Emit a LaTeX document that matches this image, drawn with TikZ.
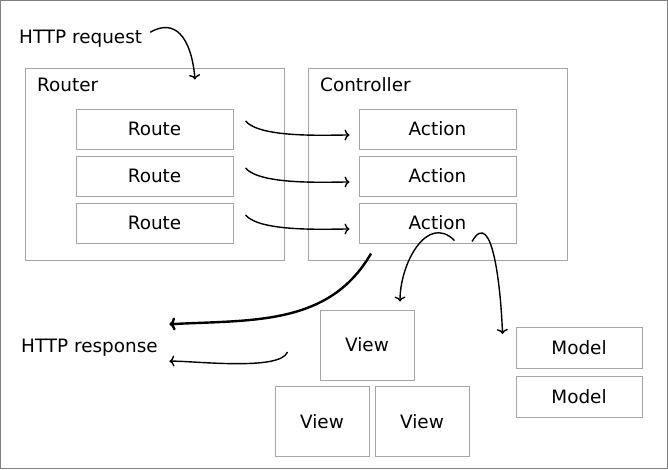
\documentclass[tikz,border=0pt]{standalone}
\usepackage{fontspec}
\setmainfont{DejaVu Sans}
\usetikzlibrary{arrows.meta, positioning}

\begin{document}
\begin{tikzpicture} [x = 1pt, y = -1pt, node distance = 6pt,
    every node/.style = {font = \fontsize{18.4}{22}\selectfont},
    box/.style = {draw = gray!70, line width = 1pt, minimum width = 157pt, minimum height = 40pt},
    group/.style = {draw = gray!70, line width = 1pt, minimum width = 259pt, minimum height = 192pt},
    view/.style = {draw = gray!70, line width = 1pt, minimum width = 94pt, minimum height = 70pt},
    model/.style = {draw = gray!70, line width = 1pt, minimum width = 126pt, minimum height = 41pt},
    word/.style = {inner sep = 0pt}]
\useasboundingbox (0,0) rectangle (668,469);
\draw [gray, line width = 1pt] (0.5,0.5) rectangle (667.5,468.5);
\node (router) [group] at (154.5,164) {};
\node (ctrl) [group] at (437.5,164) {};
\node [word, anchor = base west] at (37,91) {Router};
\node [word, anchor = base west] at (320,91) {Controller};
\node (req) [word, anchor = base west] at (19,43) {HTTP request};
\node (resp) [word, anchor = base west] at (21,352) {HTTP response};
\node (r1) [box] at (154.5,129) {Route};
\node (r2) [box, below = of r1] {Route};
\node (r3) [box, below = of r2] {Route};
\node (a1) [box] at (437.5,129) {Action};
\node (a2) [box, below = of a1] {Action};
\node (a3) [box, below = of a2] {Action};
\node (v1) [view] at (367,345) {View};
\node (v2) [view] at (322,421.5) {View};
\node (v3) [view] at (422,421.5) {View};
\node (m1) [model] at (579,347.5) {Model};
\node (m2) [model] at (579,397) {Model};
\path [-{To[length = 5pt, width = 11pt]}, line width = 1.4pt]
    ([shift = {(8,-6)}]req.east) edge [out = 30, in = 95, out looseness = 1.1, in looseness = 1.7] ([shift = {(40.5,12)}]router.north)
    ([shift = {(12,-8)}]r1.east) edge [out = -50, in = 180, looseness = 0.55] ([shift = {(-9,6)}]a1.west)
    ([shift = {(12,-8)}]r2.east) edge [out = -50, in = 180, looseness = 0.55] ([shift = {(-9,6)}]a2.west)
    ([shift = {(12,-8)}]r3.east) edge [out = -50, in = 180, looseness = 0.55] ([shift = {(-9,6)}]a3.west)
    ([shift = {(17,-3)}]a3.south) edge [out = 135, in = 90, looseness = 1.2] ([shift = {(33,-8)}]v1.north)
    ([shift = {(34.5,-2)}]a3.south) edge [out = 60, in = 92, looseness = 1.1] ([shift = {(-13,-13.5)}]m1.west)
    ([shift = {(-32,7)}]v1.west) edge [out = 250, in = 2, looseness = 0.45] ([shift = {(11.5,14)}]resp.east);
\path [-{To[length = 6pt, width = 13pt]}, line width = 2.4pt]
    ([shift = {(-66.5,-7)}]ctrl.south) edge [out = 240, in = 3] ([shift = {(11.5,-23)}]resp.east);
\end{tikzpicture}
\end{document}
